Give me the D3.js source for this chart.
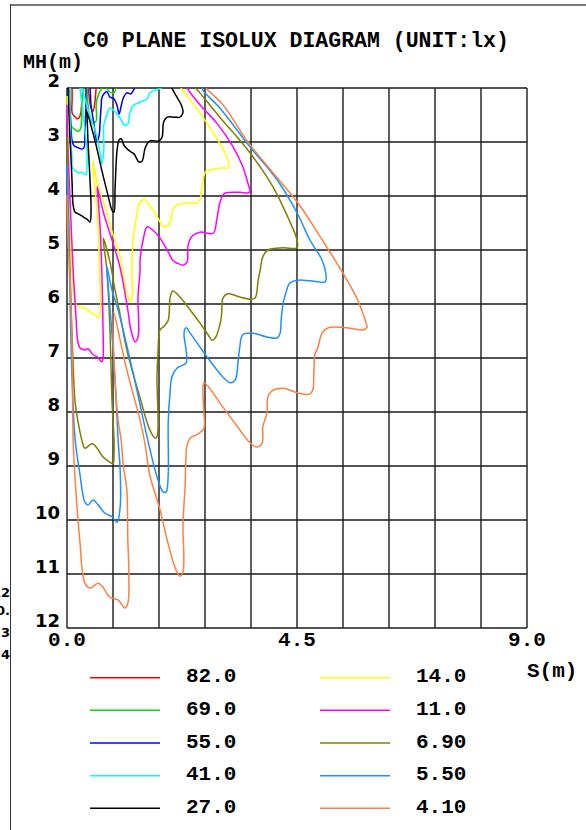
<!DOCTYPE html>
<html>
<head>
<meta charset="utf-8">
<script src="https://cdn.jsdelivr.net/npm/d3@7"></script>
<style>
  body { margin: 0; background: #fff; }
  svg { display: block; }
</style>
</head>
<body>
<script>
// Isolux levels (lx), in legend order
const levels = ["82.0", "69.0", "55.0", "41.0", "27.0", "14.0", "11.0", "6.90", "5.50", "4.10"];
const lineColors = ["#ff0000", "#00e000", "#0000ff", "#00ffff", "#000000",
                    "#ffff00", "#ff00ff", "#808000", "#1e90ff", "#ff8040"];

// Contour points: [S (m), MH (m)]
const lux82 = [[0.10,1.98],[0.10,2.22],[0.10,2.46],[0.14,2.52],[0.20,2.57],[0.23,2.56],[0.27,2.46],[0.29,2.22],
  [0.31,2.00],[0.33,1.85],[0.39,1.85],[0.43,2.13],[0.47,2.37],[0.51,2.43],[0.55,2.22],[0.57,1.98]];

const lux69 = [[0.06,1.96],[0.06,2.22],[0.07,2.56],[0.08,2.70],[0.14,2.76],[0.23,2.80],[0.27,2.74],[0.29,2.41],
  [0.31,2.13],[0.33,1.89],[0.37,1.89],[0.41,2.31],[0.45,2.56],[0.47,2.61],[0.49,2.65],[0.57,2.61],[0.57,2.33],
  [0.59,2.20],[0.63,2.09],[0.67,2.02],[0.70,1.94],[0.76,1.94],[0.78,2.00],[0.82,2.06],[0.88,2.09],[0.92,2.09],
  [0.96,2.00],[0.98,1.94]];

const lux55 = [[0.04,1.96],[0.06,2.41],[0.08,2.78],[0.10,2.98],[0.14,3.07],[0.23,3.11],[0.29,3.13],[0.33,3.11],
  [0.35,2.78],[0.37,2.41],[0.37,2.13],[0.39,1.89],[0.43,1.89],[0.47,2.31],[0.53,2.69],[0.57,2.93],[0.59,3.00],
  [0.63,2.87],[0.65,2.59],[0.67,2.31],[0.68,2.19],[0.72,2.11],[0.78,2.07],[0.84,2.17],[0.92,2.20],[0.98,2.33],
  [1.02,2.48],[1.06,2.33],[1.10,2.19],[1.17,2.09],[1.25,2.11],[1.31,2.02],[1.33,1.96]];

const lux41 = [[0.06,1.96],[0.06,2.59],[0.08,3.06],[0.10,3.33],[0.10,3.46],[0.14,3.52],[0.23,3.57],[0.29,3.56],
  [0.37,3.61],[0.39,3.43],[0.39,3.15],[0.35,2.78],[0.31,2.41],[0.27,2.13],[0.26,1.93],[0.29,1.93],[0.29,2.00],
  [0.35,2.19],[0.43,2.46],[0.57,2.85],[0.65,3.22],[0.68,3.41],[0.72,3.15],[0.72,2.69],[0.78,2.50],[0.84,2.37],
  [0.94,2.44],[1.04,2.56],[1.13,2.69],[1.19,2.67],[1.23,2.46],[1.29,2.33],[1.43,2.26],[1.57,2.20],[1.62,2.09],
  [1.72,2.04],[1.84,2.00],[1.88,1.96]];

const lux27 = [[0.02,1.96],[0.04,2.59],[0.08,3.33],[0.10,3.76],[0.12,4.17],[0.16,4.30],[0.22,4.33],[0.29,4.37],
  [0.39,4.43],[0.45,4.48],[0.47,4.26],[0.45,3.70],[0.41,2.96],[0.39,2.50],[0.38,2.41],[0.45,2.63],[0.57,3.06],
  [0.68,3.52],[0.80,3.98],[0.88,4.26],[0.92,4.30],[0.94,3.89],[0.96,3.43],[0.98,3.15],[1.02,2.96],[1.06,2.94],
  [1.12,3.07],[1.23,3.17],[1.31,3.22],[1.41,3.37],[1.47,3.35],[1.53,3.11],[1.62,2.98],[1.80,2.98],[1.86,2.91],
  [1.88,2.69],[1.90,2.61],[1.96,2.54],[2.11,2.54],[2.21,2.54],[2.27,2.44],[2.23,2.30],[2.15,2.17],[2.05,2.00],
  [2.03,1.96]];

const lux14 = [[0.00,2.15],[0.02,2.96],[0.04,4.07],[0.08,5.00],[0.12,5.65],[0.18,6.02],[0.25,6.06],[0.35,6.07],
  [0.45,6.15],[0.55,6.20],[0.61,6.26],[0.65,6.17],[0.65,5.74],[0.63,5.19],[0.61,4.63],[0.55,3.89],[0.50,3.35],
  [0.57,3.67],[0.65,3.94],[0.78,4.31],[0.90,4.72],[1.04,5.13],[1.15,5.70],[1.21,5.91],[1.23,5.96],[1.27,5.89],
  [1.27,5.31],[1.29,4.81],[1.35,4.44],[1.43,4.11],[1.53,4.07],[1.62,4.19],[1.72,4.31],[1.82,4.48],[1.88,4.57],
  [1.96,4.56],[2.02,4.48],[2.07,4.26],[2.15,4.17],[2.35,4.13],[2.54,4.13],[2.60,4.07],[2.64,3.85],[2.66,3.70],
  [2.72,3.54],[2.80,3.52],[2.99,3.48],[3.15,3.48],[3.17,3.44],[3.09,3.20],[2.86,2.83],[2.60,2.46],[2.41,2.22],
  [2.23,2.00],[2.21,1.96]];

const lux11 = [[0.00,2.31],[0.02,3.15],[0.06,4.07],[0.12,5.37],[0.18,6.30],[0.20,6.61],[0.25,6.81],[0.35,6.85],
  [0.41,6.83],[0.51,6.94],[0.59,6.98],[0.68,7.07],[0.70,7.04],[0.70,6.24],[0.68,5.37],[0.65,4.63],[0.61,4.07],
  [0.59,3.83],[0.63,3.98],[0.72,4.33],[0.88,4.81],[1.04,5.33],[1.19,6.11],[1.25,6.48],[1.33,6.70],[1.39,6.61],
  [1.39,5.87],[1.43,5.37],[1.43,5.19],[1.49,4.81],[1.57,4.57],[1.68,4.63],[1.82,4.78],[1.96,5.00],[2.07,5.19],
  [2.15,5.24],[2.27,5.28],[2.35,5.22],[2.37,4.91],[2.45,4.74],[2.60,4.67],[2.86,4.69],[2.93,4.44],[2.99,4.13],
  [3.05,3.98],[3.11,3.94],[3.38,3.93],[3.56,3.94],[3.58,3.89],[3.56,3.83],[3.44,3.46],[3.25,3.09],[2.93,2.65],
  [2.60,2.31],[2.35,2.00],[2.33,1.96]];

const lux6_9 = [[0.00,2.89],[0.02,4.07],[0.06,5.37],[0.10,6.61],[0.16,7.83],[0.22,8.20],[0.29,8.52],[0.35,8.67],
  [0.49,8.59],[0.59,8.67],[0.70,8.83],[0.84,8.93],[0.90,8.96],[0.92,8.76],[0.92,8.52],[0.88,7.78],[0.84,6.48],
  [0.78,5.37],[0.72,4.91],[0.71,4.78],[0.84,5.22],[0.94,5.74],[1.04,6.20],[1.17,6.85],[1.43,7.74],[1.62,8.33],
  [1.72,8.48],[1.76,8.46],[1.76,7.35],[1.78,6.91],[1.82,6.48],[1.90,6.41],[1.98,6.30],[2.02,5.87],[2.07,5.76],
  [2.21,5.87],[2.41,6.11],[2.60,6.35],[2.76,6.57],[2.84,6.67],[2.90,6.63],[3.01,6.30],[3.03,6.11],[3.05,5.89],
  [3.15,5.81],[3.38,5.87],[3.58,5.91],[3.68,5.89],[3.74,5.56],[3.78,5.37],[3.83,5.13],[3.93,5.00],[4.23,4.96],
  [4.50,4.96],[4.50,4.81],[4.32,4.39],[4.03,3.83],[3.58,3.20],[2.99,2.54],[2.60,2.09],[2.52,2.00],[2.50,1.96]];

const lux5_5 = [[0.00,3.43],[0.02,4.07],[0.06,5.93],[0.10,7.41],[0.16,8.52],[0.25,9.13],[0.35,9.67],[0.41,9.72],
  [0.51,9.63],[0.61,9.72],[0.74,9.87],[0.88,9.94],[0.98,10.04],[1.04,9.76],[1.04,9.07],[1.00,8.52],[0.94,7.41],
  [0.86,6.30],[0.80,5.61],[0.78,5.31],[0.88,5.74],[1.00,6.11],[1.19,6.85],[1.39,7.69],[1.58,8.52],[1.78,9.26],
  [1.88,9.48],[1.94,9.48],[1.98,9.17],[1.98,8.52],[1.98,8.20],[2.02,7.59],[2.05,7.35],[2.15,7.19],[2.33,7.09],
  [2.33,6.85],[2.29,6.54],[2.33,6.44],[2.41,6.54],[2.74,6.98],[3.05,7.35],[3.19,7.46],[3.29,7.41],[3.35,7.04],
  [3.38,6.80],[3.44,6.57],[3.64,6.54],[3.91,6.61],[4.11,6.63],[4.17,6.54],[4.19,6.30],[4.23,5.98],[4.28,5.80],
  [4.36,5.61],[4.52,5.56],[4.75,5.57],[5.05,5.59],[5.07,5.50],[4.99,5.19],[4.75,4.81],[4.50,4.31],[4.11,3.70],
  [3.58,3.09],[2.99,2.37],[2.66,2.04],[2.64,1.96]];

const lux4_1 = [[0.00,3.98],[0.02,4.81],[0.06,5.56],[0.10,6.85],[0.12,8.52],[0.16,9.26],[0.25,10.37],[0.35,11.17],
  [0.45,11.26],[0.61,11.17],[0.70,11.24],[0.84,11.43],[1.00,11.48],[1.13,11.63],[1.19,11.54],[1.21,10.98],
  [1.19,10.37],[1.17,9.44],[1.10,8.98],[1.06,8.52],[1.00,8.15],[0.94,7.41],[0.91,6.15],[1.04,6.67],[1.17,7.22],
  [1.43,8.15],[1.53,8.61],[1.62,9.17],[1.82,9.81],[1.96,10.37],[2.11,10.87],[2.21,11.04],[2.27,10.96],[2.27,10.06],
  [2.31,9.39],[2.35,8.61],[2.41,8.48],[2.56,8.41],[2.68,8.30],[2.68,8.02],[2.66,7.65],[2.68,7.46],[3.05,7.91],
  [3.38,8.33],[3.58,8.57],[3.72,8.65],[3.82,8.57],[3.83,8.28],[3.91,8.02],[3.93,7.72],[4.01,7.61],[4.23,7.56],
  [4.52,7.65],[4.75,7.67],[4.81,7.59],[4.83,7.28],[4.85,6.94],[4.91,6.80],[4.99,6.54],[5.11,6.44],[5.48,6.44],
  [5.79,6.48],[5.87,6.43],[5.85,6.35],[5.69,5.93],[5.40,5.43],[4.99,4.81],[4.52,4.13],[4.03,3.57],[3.54,3.00],
  [3.05,2.31],[2.72,2.00],[2.70,1.96]];

const contours = [lux82, lux69, lux55, lux41, lux27, lux14, lux11, lux6_9, lux5_5, lux4_1];

// Grid and tick labels
const xGrid = [0, 0.9, 1.8, 2.7, 3.6, 4.5, 5.4, 6.3, 7.2, 8.1, 9.0];
const yGrid = [2, 3, 4, 5, 6, 7, 8, 9, 10, 11, 12];
const xLabels = ["0.0", "4.5", "9.0"];

const W = 586, H = 830;
const mono = "'Courier New', 'Liberation Mono', monospace";
const sans = "'DejaVu Sans', Arial, sans-serif";

const x = d3.scaleLinear().domain([0, 9]).range([67, 527]);
const y = d3.scaleLinear().domain([2, 12]).range([88, 628]);

const svg = d3.select("body").append("svg")
    .attr("width", W)
    .attr("height", H);

svg.append("rect").attr("width", W).attr("height", H).attr("fill", "#fff");

// outer frame (cut off by the window on the right and bottom)
svg.append("line")
    .attr("x1", 10).attr("x2", W).attr("y1", 5).attr("y2", 5)
    .attr("stroke", "#7a7a7a").attr("stroke-width", 2.2);
svg.append("line")
    .attr("x1", 10.5).attr("x2", 10.5).attr("y1", 4).attr("y2", H)
    .attr("stroke", "#333").attr("stroke-width", 1);

// stray labels, cut off at the left edge as in the original
const stray = [["0.12", 597], ["10.", 615], ["0.3", 637], ["0.4", 659]];
svg.append("g").selectAll("text")
    .data(stray)
    .join("text")
    .attr("x", 10)
    .attr("y", d => d[1])
    .attr("text-anchor", "end")
    .style("font", `bold 13px ${sans}`)
    .text(d => d[0]);

// title and axis names
svg.append("text")
    .attr("x", 296).attr("y", 47)
    .attr("text-anchor", "middle")
    .style("font", `bold 21.5px ${mono}`)
    .text("C0 PLANE ISOLUX DIAGRAM (UNIT:lx)");

svg.append("text")
    .attr("x", 23).attr("y", 68)
    .style("font", `bold 20px ${mono}`)
    .text("MH(m)");

svg.append("text")
    .attr("x", 527).attr("y", 677)
    .style("font", `bold 21px ${mono}`)
    .text("S(m)");

// grid
const grid = svg.append("g")
    .attr("stroke", "#1a1a1a")
    .attr("stroke-width", 1.4);

grid.selectAll("line.v")
    .data(xGrid)
    .join("line")
    .attr("class", "v")
    .attr("x1", d => x(d)).attr("x2", d => x(d))
    .attr("y1", y(2)).attr("y2", y(12));

grid.selectAll("line.h")
    .data(yGrid)
    .join("line")
    .attr("class", "h")
    .attr("x1", x(0)).attr("x2", x(9))
    .attr("y1", d => y(d)).attr("y2", d => y(d));

// y tick labels sit just above their grid line
svg.append("g").selectAll("text")
    .data(yGrid)
    .join("text")
    .attr("x", 60)
    .attr("y", d => y(d) - 1)
    .attr("text-anchor", "end")
    .style("font", `bold 18px ${sans}`)
    .text(d => d);

svg.append("g").selectAll("text")
    .data(xLabels)
    .join("text")
    .attr("x", d => x(+d))
    .attr("y", 646)
    .attr("text-anchor", "middle")
    .style("font", `bold 21px ${mono}`)
    .text(d => d);

// contours, clipped to the plot box
svg.append("clipPath").attr("id", "plot")
  .append("rect")
    .attr("x", x(0) - 2).attr("y", y(2))
    .attr("width", x(9) - x(0) + 2).attr("height", y(12) - y(2));

const line = d3.line()
    .x(d => x(d[0]))
    .y(d => y(d[1]))
    .curve(d3.curveCatmullRom.alpha(0.5));

svg.append("g")
    .attr("clip-path", "url(#plot)")
  .selectAll("path")
    .data(contours)
    .join("path")
    .attr("d", line)
    .attr("fill", "none")
    .attr("stroke", (d, i) => lineColors[i])
    .attr("stroke-width", 1.5)
    .attr("stroke-linejoin", "round");

// legend: two columns of five
const legend = svg.append("g");
const rowY = i => 677.7 + (i % 5) * 32.65;
const colX = i => (i < 5 ? 90 : 320);

legend.selectAll("line")
    .data(levels)
    .join("line")
    .attr("x1", (d, i) => colX(i))
    .attr("x2", (d, i) => colX(i) + 70)
    .attr("y1", (d, i) => rowY(i))
    .attr("y2", (d, i) => rowY(i))
    .attr("stroke", (d, i) => lineColors[i])
    .attr("stroke-width", 1.5);

legend.selectAll("text")
    .data(levels)
    .join("text")
    .attr("x", (d, i) => colX(i) + 96)
    .attr("y", (d, i) => rowY(i) + 4.5)
    .style("font", `bold 21px ${mono}`)
    .text(d => d);
</script>
</body>
</html>
